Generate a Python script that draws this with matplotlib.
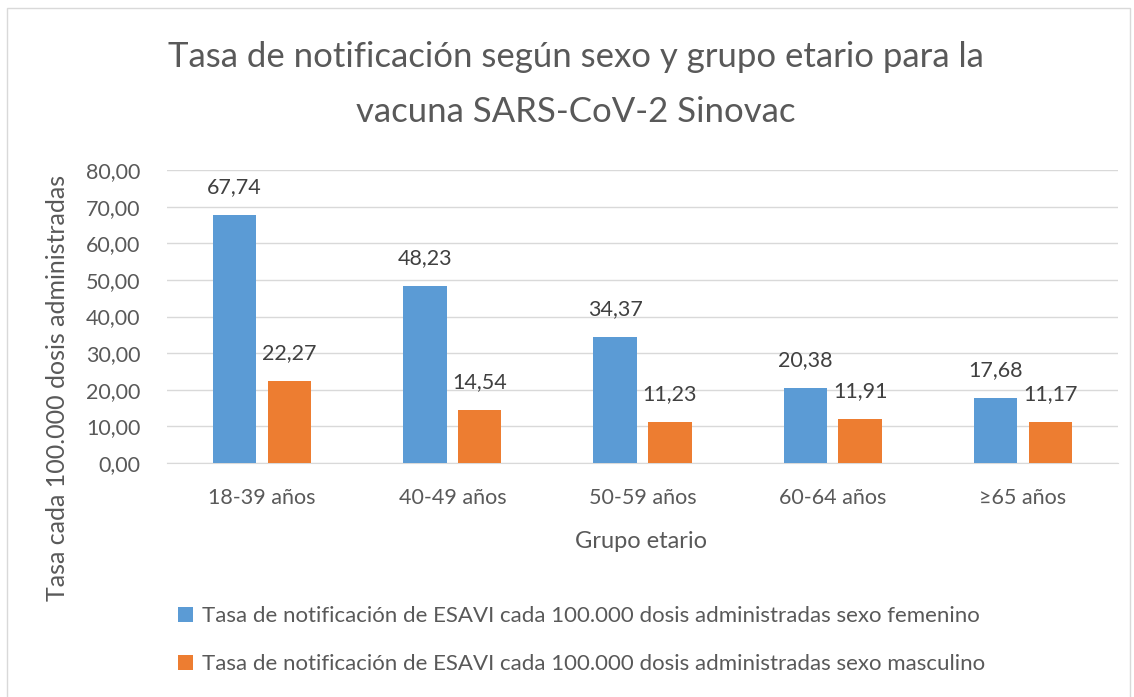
import matplotlib
matplotlib.use("Agg")
import matplotlib.pyplot as plt
from matplotlib.patches import Rectangle
import numpy as np

plt.rcParams['font.family'] = ['Lato', 'DejaVu Sans']

grupos = ['18-39 años', '40-49 años', '50-59 años', '60-64 años', '≥65 años']
femenino = [67.74, 48.23, 34.37, 20.38, 17.68]
masculino = [22.27, 14.54, 11.23, 11.91, 11.17]
yticks = [0, 10, 20, 30, 40, 50, 60, 70, 80]

azul = '#5B9BD5'
naranjo = '#ED7D31'
gris = '#595959'

fig = plt.figure(figsize=(11.34, 6.97), dpi=100)
ax = fig.add_axes([0.1473, 0.3357, 0.8386, 0.4204])

x = np.arange(len(grupos))
w = 0.228
off = 0.144
b1 = ax.bar(x - off, femenino, w, color=azul, zorder=3,
            label='Tasa de notificación de ESAVI cada 100.000 dosis administradas sexo femenino')
b2 = ax.bar(x + off, masculino, w, color=naranjo, zorder=3,
            label='Tasa de notificación de ESAVI cada 100.000 dosis administradas sexo masculino')

def coma(v):
    return ('%.2f' % v).replace('.', ',')

for bars, vals in ((b1, femenino), (b2, masculino)):
    for r, v in zip(bars, vals):
        ax.text(r.get_x() + r.get_width() / 2, v + 6.0, coma(v), ha='center', va='baseline',
                fontsize=15.5, color='#404040')

ax.set_xlim(-0.5, len(grupos) - 0.5)
ax.set_ylim(0, 80)
ax.set_yticks(yticks)
ax.set_yticklabels([coma(v) for v in yticks], fontsize=15.5, color=gris)
ax.set_xticks(x)
ax.set_xticklabels(grupos, fontsize=15.5, color=gris)
ax.tick_params(axis='y', length=0, pad=19)
ax.tick_params(axis='x', length=0, pad=18)
ax.grid(axis='y', color='#D9D9D9', linewidth=1, zorder=0)
for s in ['top', 'right', 'left']:
    ax.spines[s].set_visible(False)
ax.spines['bottom'].set_color('#D9D9D9')

fig.text(0.508, 1 - 67 / 697, 'Tasa de notificación según sexo y grupo etario para la',
         ha='center', va='baseline', fontsize=25, color=gris)
fig.text(0.508, 1 - 122 / 697, 'vacuna SARS-CoV-2 Sinovac',
         ha='center', va='baseline', fontsize=25, color=gris)
fig.text(0.565, 1 - 548 / 697, 'Grupo etario', ha='center', va='baseline', fontsize=17, color=gris)
fig.text(0.051, 0.443, 'Tasa cada 100.000 dosis administradas', rotation=90,
         ha='center', va='center', fontsize=18, color=gris)

fig.legend(handles=[b1, b2], loc='upper left', bbox_to_anchor=(0.157, 0.130), frameon=False,
           fontsize=16, labelcolor=gris, handlelength=0.675, handleheight=0.675,
           labelspacing=1.25, handletextpad=0.4, borderpad=0, borderaxespad=0)

fig.patches.append(Rectangle((0.0062, -0.01), 0.990, 0.9985, transform=fig.transFigure,
                             fill=False, edgecolor='#D9D9D9', linewidth=1))

fig.savefig('out.png', dpi=100)
